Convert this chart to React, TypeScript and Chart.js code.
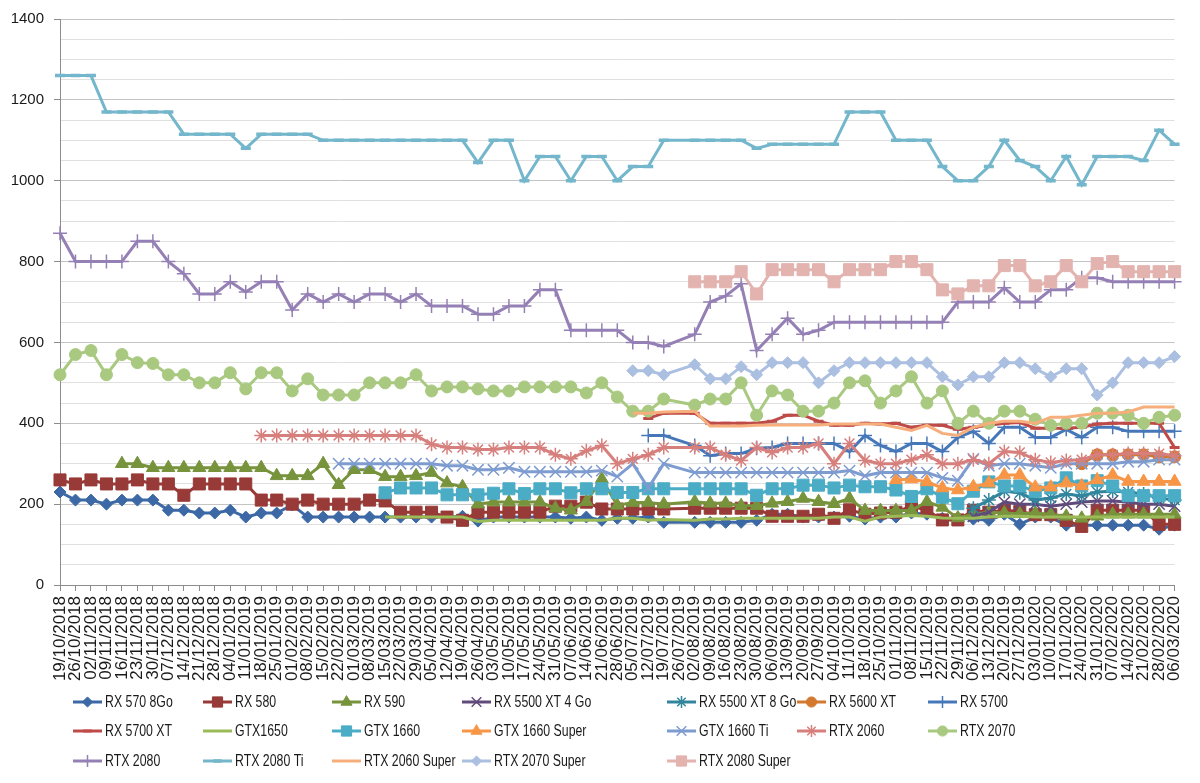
import React, { useEffect, useRef } from 'react';
import { Chart, registerables } from 'chart.js';
import { drawPoint } from 'chart.js/helpers';

Chart.register(...registerables);

const N = null;

const dates = [
  '19/10/2018', '26/10/2018', '02/11/2018', '09/11/2018', '16/11/2018', '23/11/2018', '30/11/2018',
  '07/12/2018', '14/12/2018', '21/12/2018', '28/12/2018', '04/01/2019', '11/01/2019', '18/01/2019',
  '25/01/2019', '01/02/2019', '08/02/2019', '15/02/2019', '22/02/2019', '01/03/2019', '08/03/2019',
  '15/03/2019', '22/03/2019', '29/03/2019', '05/04/2019', '12/04/2019', '19/04/2019', '26/04/2019',
  '03/05/2019', '10/05/2019', '17/05/2019', '24/05/2019', '31/05/2019', '07/06/2019', '14/06/2019',
  '21/06/2019', '28/06/2019', '05/07/2019', '12/07/2019', '19/07/2019', '26/07/2019', '02/08/2019',
  '09/08/2019', '16/08/2019', '23/08/2019', '30/08/2019', '06/09/2019', '13/09/2019', '20/09/2019',
  '27/09/2019', '04/10/2019', '11/10/2019', '18/10/2019', '25/10/2019', '01/11/2019', '08/11/2019',
  '15/11/2019', '22/11/2019', '29/11/2019', '06/12/2019', '13/12/2019', '20/12/2019', '27/12/2019',
  '03/01/2020', '10/01/2020', '17/01/2020', '24/01/2020', '31/01/2020', '07/02/2020', '14/02/2020',
  '21/02/2020', '28/02/2020', '06/03/2020',
];

const seriesNames = [
  'RX 570 8Go', 'RX 580', 'RX 590', 'RX 5500 XT 4 Go', 'RX 5500 XT 8 Go', 'RX 5600 XT', 'RX 5700',
  'RX 5700 XT', 'GTX1650', 'GTX 1660', 'GTX 1660 Super', 'GTX 1660 Ti', 'RTX 2060', 'RTX 2070',
  'RTX 2080', 'RTX 2080 Ti', 'RTX 2060 Super', 'RTX 2070 Super', 'RTX 2080 Super',
];

const RX570 = [230,210,210,200,210,210,210,185,185,178, 178,185,168,178,178,198,168,168,168,168,
  168,168,168,168,168,168,170,158,168,168, 168,168,168,165,168,160,165,165,168,155,
  N,155,155,155,155,160,175,175,168,168, 168,170,163,168,168,178,175,165,165,163,
  160,175,150,168,168,148,148,148,148,148, 148,138,148];

const RX580 = [260,250,260,250,250,260,250,250,222,250, 250,250,250,210,210,200,210,200,200,200,
  210,208,180,180,180,168,160,180,180,180, 180,180,195,195,205,188,188,188,188,188,
  N,190,190,190,190,190,170,170,170,175, 165,186,175,178,180,195,185,161,161,185,
  180,185,182,174,174,160,145,185,185,185, 185,150,150];

const RX590 = [N,N,N,N,300,300,290,290,290,290, 290,290,290,290,270,270,270,300,248,285,
  285,268,268,270,278,252,243,200,205,205, 205,205,190,185,206,262,197,204,204,200,
  N,206,202,202,196,196,202,206,214,206, 201,214,184,184,184,184,206,192,166,175,
  180,178,176,178,175,170,165,170,175,175, 175,175,175];

const RX5500XT4 = [N,N,N,N,N,N,N,N,N,N, N,N,N,N,N,N,N,N,N,N, N,N,N,N,N,N,N,N,N,N,
  N,N,N,N,N,N,N,N,N,N, N,N,N,N,N,N,N,N,N,N, N,N,N,N,N,N,N,N,N,
  170,180,205,200,200,195,200,205,208,208,205,200,200,195];

const RX5500XT8 = [N,N,N,N,N,N,N,N,N,N, N,N,N,N,N,N,N,N,N,N, N,N,N,N,N,N,N,N,N,N,
  N,N,N,N,N,N,N,N,N,N, N,N,N,N,N,N,N,N,N,N, N,N,N,N,N,N,N,N,N,
  190,210,232,228,210,215,225,220,230,232,230,225,215,210];

const RX5600XT = [N,N,N,N,N,N,N,N,N,N, N,N,N,N,N,N,N,N,N,N, N,N,N,N,N,N,N,N,N,N,
  N,N,N,N,N,N,N,N,N,N, N,N,N,N,N,N,N,N,N,N, N,N,N,N,N,N,N,N,N,N, N,N,N,N,N,N,
  300,322,322,322,322,317,317];

const RX5700 = [N,N,N,N,N,N,N,N,N,N, N,N,N,N,N,N,N,N,N,N, N,N,N,N,N,N,N,N,N,N, N,N,N,N,N,N,N,N,
  370,370,N,345,320,325,325,338,340,350,350,350,350,330,370,345,330,350,350,330,
  365,380,350,390,390,365,365,385,365,390,390,380,380,380,380];

const RX5700XT = [N,N,N,N,N,N,N,N,N,N, N,N,N,N,N,N,N,N,N,N, N,N,N,N,N,N,N,N,N,N, N,N,N,N,N,N,N,N,
  412,425,N,425,400,400,400,400,405,420,420,405,395,395,400,398,400,390,395,395,
  385,390,395,400,402,388,388,388,390,398,400,400,400,400,340];

const GTX1650 = [N,N,N,N,N,N,N,N,N,N, N,N,N,N,N,N,N,N,N,N, N,
  168,168,168,168,168,168,157,160,160,160, 160,160,160,160,160,165,165,160,162,N,
  160,163,163,165,165,165,165,165,165,168, 168,158,168,170,172,170,166,165,165,168,
  170,170,168,168,168,168,168,168,168,168, 168,168];

const GTX1660 = [N,N,N,N,N,N,N,N,N,N, N,N,N,N,N,N,N,N,N,N, N,
  228,240,240,240,223,223,223,227,238,226, 238,238,228,238,238,229,229,238,238,N,
  238,238,238,238,222,238,238,247,247,240, 247,243,243,235,219,238,217,201,232,255,
  245,245,232,240,265,245,258,245,221,221, 221,221];

const GTX1660S = [N,N,N,N,N,N,N,N,N,N, N,N,N,N,N,N,N,N,N,N, N,N,N,N,N,N,N,N,N,N,
  N,N,N,N,N,N,N,N,N,N, N,N,N,N,N,N,N,N,N,N, N,N,N,N,
  260,262,255,240,235,243,252,272,272,242,242,252,245,260,272,256,256,256,256];

const GTX1660Ti = [N,N,N,N,N,N,N,N,N,N, N,N,N,N,N,N,N,N,
  300,300,300,300,300,300,300,295,295,285, 285,290,280,280,280,280,280,283,268,300,
  240,300,N,278,278,278,278,278,278,278, 278,278,278,283,270,278,278,278,278,265,
  258,312,295,300,300,295,290,300,300,300, 300,305,305,310,310];

const RTX2060 = [N,N,N,N,N,N,N,N,N,N, N,N,N,
  370,370,370,370,370,370,370,370,370,370, 370,348,340,340,335,335,340,340,340,322,
  312,332,345,300,312,322,340,N,340,340, 322,308,340,328,340,340,350,300,350,308,
  300,300,310,322,300,300,310,300,330,328, 310,303,308,310,322,322,325,325,325,320];

const RTX2070 = [520,570,580,520,570,550,548,520,520,500, 500,525,485,525,525,480,510,470,470,470,
  500,500,500,520,480,490,490,485,480,480, 490,490,490,490,475,500,465,430,430,460,
  N,445,460,460,500,420,480,470,430,430, 450,500,505,450,480,515,450,480,400,430,
  400,430,430,410,395,400,400,425,425,420, 400,415,420];

const RTX2080 = [870,800,800,800,800,850,850,800,770,720, 720,750,725,750,750,680,720,700,720,700,
  720,720,700,720,690,690,690,670,670,690, 690,730,730,630,630,630,630,600,600,590,
  N,620,700,715,745,580,620,660,620,630, 650,650,650,650,650,650,650,650,700,700,
  700,735,700,700,730,730,760,760,750,750, 750,750,750];

const RTX2080Ti = [1260,1260,1260,1170,1170,1170,1170,1170,1115,1115, 1115,1115,1080,1115,1115,1115,1115,1100,1100,1100,
  1100,1100,1100,1100,1100,1100,1100,1045,1100,1100, 1000,1060,1060,1000,1060,1060,1000,1035,1035,1100,
  N,1100,1100,1100,1100,1080,1090,1090,1090,1090, 1090,1170,1170,1170,1100,1100,1100,1035,1000,1000,
  1035,1100,1050,1035,1000,1060,990,1060,1060,1060, 1050,1125,1090];

const RTX2060S = [N,N,N,N,N,N,N,N,N,N, N,N,N,N,N,N,N,N,N,N, N,N,N,N,N,N,N,N,N,N, N,N,N,N,N,N,N,
  425,425,428,N,430,393,393,393,395,396, 396,396,396,398,398,398,398,390,382,395,
  375,370,390,400,405,405,400,415,415,420, 425,425,428,440,440,440];

const RTX2070S = [N,N,N,N,N,N,N,N,N,N, N,N,N,N,N,N,N,N,N,N, N,N,N,N,N,N,N,N,N,N, N,N,N,N,N,N,N,
  530,530,520,N,545,510,510,540,520,550, 550,550,500,530,550,550,550,550,550,550,
  515,495,515,515,550,550,535,515,535,535, 470,500,550,550,550,565];

const RTX2080S = [N,N,N,N,N,N,N,N,N,N, N,N,N,N,N,N,N,N,N,N, N,N,N,N,N,N,N,N,N,N, N,N,N,N,N,N,N,N,N,N, N,
  750,750,750,775,720,780,780,780,780,750, 780,780,780,800,800,780,730,720,740,740,
  790,790,740,750,790,750,795,800,775,775, 775,775];

const seriesValues = [
  RX570, RX580, RX590, RX5500XT4, RX5500XT8, RX5600XT, RX5700, RX5700XT, GTX1650, GTX1660,
  GTX1660S, GTX1660Ti, RTX2060, RTX2070, RTX2080, RTX2080Ti, RTX2060S, RTX2070S, RTX2080S,
];

type Sty = { color: string; point: any; r: number; bw: number };
const styles: Sty[] = [
  { color: '#3c69a5', point: 'rectRot', r: 6, bw: 1 },
  { color: '#983a37', point: 'rect', r: 8.5, bw: 1 },
  { color: '#77933c', point: 'triangle', r: 7.5, bw: 1 },
  { color: '#604a7b', point: 'crossRot', r: 8, bw: 1.5 },
  { color: '#31859c', point: 'star', r: 7, bw: 1.5 },
  { color: '#d2782f', point: 'circle', r: 6, bw: 1 },
  { color: '#4677b8', point: 'cross', r: 7, bw: 1.5 },
  { color: '#be4b48', point: 'line', r: 5, bw: 3 },
  { color: '#9bbb59', point: 'circle', r: 0, bw: 0 },
  { color: '#4bacc6', point: 'rect', r: 8.5, bw: 1 },
  { color: '#f79646', point: 'triangle', r: 7.5, bw: 1 },
  { color: '#7e9cd0', point: 'crossRot', r: 8, bw: 1.5 },
  { color: '#d67f7c', point: 'star', r: 7, bw: 1.5 },
  { color: '#a8c97f', point: 'circle', r: 6, bw: 1 },
  { color: '#9580b5', point: 'cross', r: 7, bw: 1.5 },
  { color: '#74b7cc', point: 'line', r: 5, bw: 3.5 },
  { color: '#f6ae7c', point: 'circle', r: 0, bw: 0 },
  { color: '#abbfe1', point: 'rectRot', r: 6, bw: 1 },
  { color: '#e3b3af', point: 'rect', r: 8.5, bw: 1 },
];

const legendCols = [73, 203, 332, 462, 667, 797, 928];
const legendRows = [702, 731, 761];
const TEXT = '#1a1a1a';
const FONT = "'Liberation Sans', Arial, sans-serif";

const gridLegend = {
  id: 'gridLegend',
  afterDraw(chart: any) {
    const ctx = chart.ctx as CanvasRenderingContext2D;
    seriesNames.forEach((name, i) => {
      const st = styles[i];
      const x = legendCols[i % 7];
      const y = legendRows[Math.floor(i / 7)];
      ctx.save();
      ctx.strokeStyle = st.color;
      ctx.lineWidth = 3;
      ctx.beginPath();
      ctx.moveTo(x, y);
      ctx.lineTo(x + 29, y);
      ctx.stroke();
      if (st.r > 0) {
        ctx.fillStyle = st.color;
        ctx.strokeStyle = st.color;
        ctx.lineWidth = st.bw;
        drawPoint(ctx, { pointStyle: st.point, rotation: 0, radius: st.r * 0.85, borderWidth: st.bw } as any, x + 14.5, y);
      }
      ctx.restore();
      ctx.save();
      ctx.font = `16px ${FONT}`;
      ctx.fillStyle = TEXT;
      ctx.textBaseline = 'middle';
      ctx.textAlign = 'left';
      ctx.translate(x + 32, y + 1);
      ctx.scale(0.77, 1);
      ctx.fillText(name, 0, 0);
      ctx.restore();
    });
  },
};

export default function App() {
  const ref = useRef<HTMLCanvasElement>(null);
  useEffect(() => {
    document.body.style.margin = '0';
    const n = seriesNames.length;
    const chart = new Chart(ref.current as HTMLCanvasElement, {
      type: 'line',
      data: {
        labels: dates,
        datasets: seriesNames.map((name, i) => ({
          label: name,
          data: seriesValues[i],
          borderColor: styles[i].color,
          backgroundColor: styles[i].color,
          pointBackgroundColor: styles[i].color,
          pointBorderColor: styles[i].color,
          pointStyle: styles[i].point,
          pointRadius: styles[i].r,
          pointBorderWidth: styles[i].bw,
          borderWidth: 3,
          tension: 0,
          fill: false,
          spanGaps: true,
          order: n - 1 - i,
        })),
      },
      options: {
        responsive: false,
        animation: false,
        events: [],
        layout: { padding: { top: 18, right: 18, bottom: 93, left: 0 } },
        plugins: { legend: { display: false }, tooltip: { enabled: false } },
        scales: {
          x: {
            type: 'category',
            offset: false,
            grid: { display: true, drawOnChartArea: false, drawTicks: true, tickLength: 6, color: '#8c8c8c', tickColor: '#8c8c8c' },
            border: { color: '#8c8c8c', width: 1 },
            ticks: {
              autoSkip: false,
              maxRotation: 90,
              minRotation: 90,
              padding: 5,
              color: TEXT,
              font: { family: FONT, size: 17 },
            },
            afterFit: (s: any) => { s.height = 105; },
          },
          y: {
            min: 0,
            max: 1400,
            ticks: {
              stepSize: 50,
              autoSkip: false,
              padding: 10,
              color: TEXT,
              font: { family: FONT, size: 15 },
              callback: (v: any) => (Number(v) % 200 === 0 ? String(v) : ''),
            },
            grid: {
              color: (c: any) => (c.tick && c.tick.value % 200 === 0 ? '#c4c4c4' : '#e0e0e0'),
              tickColor: (c: any) => (c.tick && c.tick.value % 200 === 0 ? '#8c8c8c' : 'rgba(0,0,0,0)'),
              tickLength: 6,
              lineWidth: 1,
            },
            border: { color: '#8c8c8c', width: 1 },
            afterFit: (s: any) => { s.width = 60; },
          },
        },
      },
      plugins: [gridLegend],
    } as any);
    return () => chart.destroy();
  }, []);
  return (
    <div style={{ position: 'absolute', left: 0, top: 0, width: 1200, height: 783, background: '#fff' }}>
      <canvas ref={ref} width={1200} height={783} style={{ display: 'block', width: 1200, height: 783 }} />
    </div>
  );
}
